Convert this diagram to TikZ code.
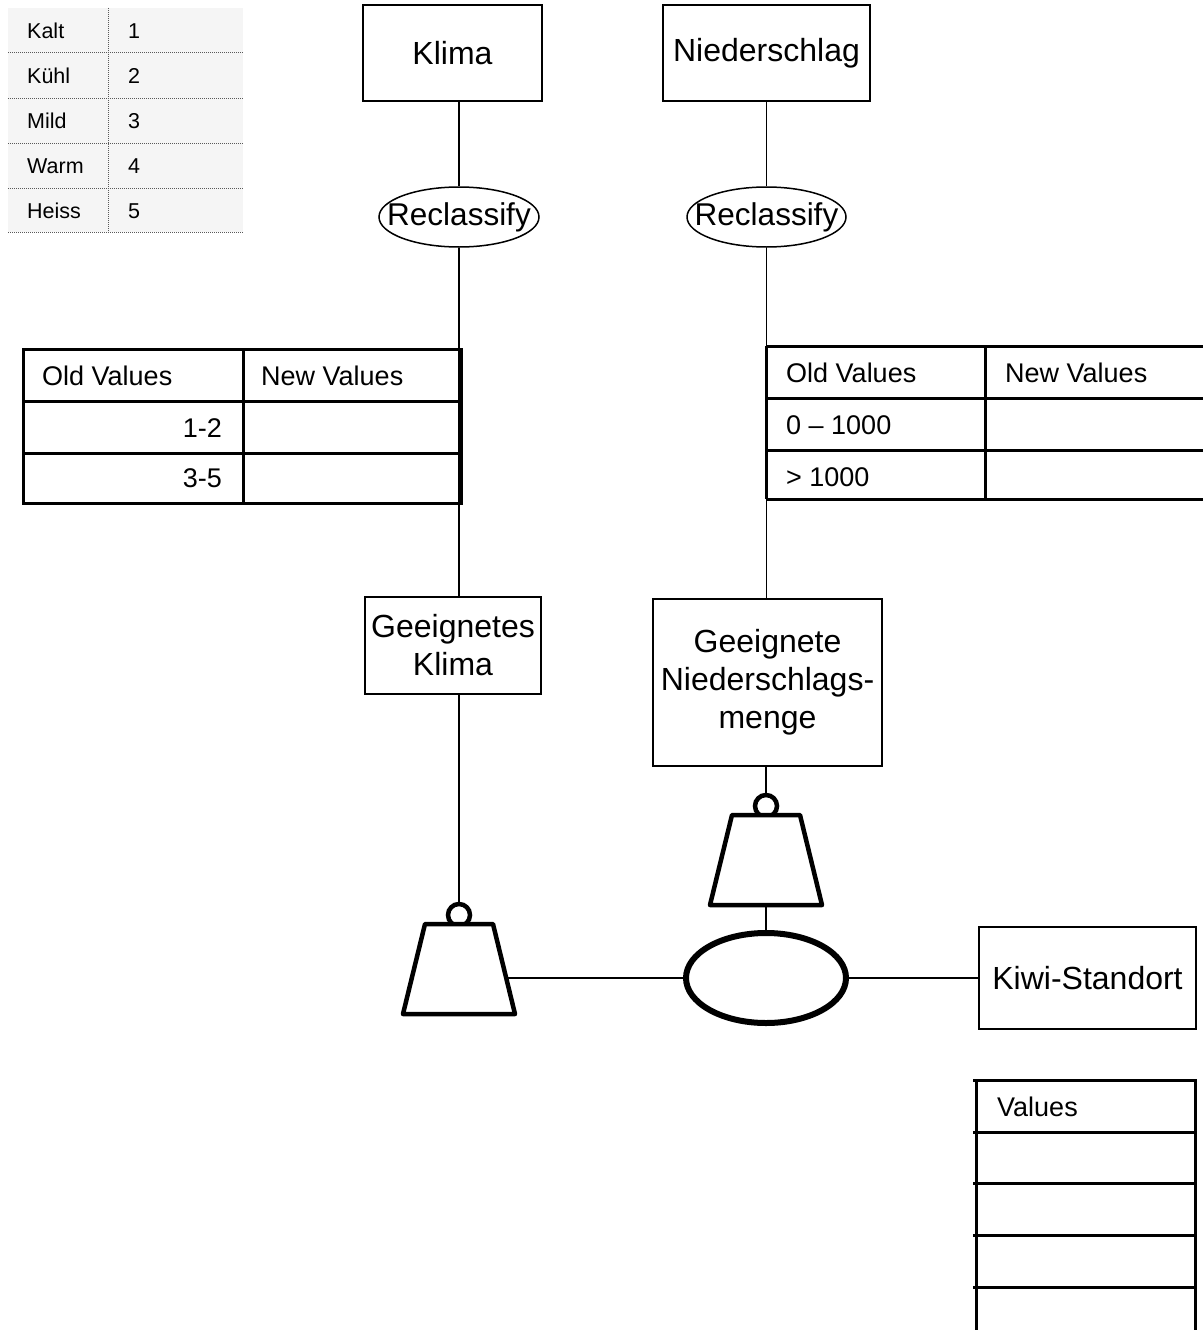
\documentclass[tikz,border=0pt]{standalone}
\usepackage{fontspec}
\setmainfont{Liberation Sans}
\usetikzlibrary{shapes.geometric}

\tikzset{
  databox/.style={draw, line width=1.5pt, align=center, inner sep=0pt,
    font=\fontsize{32}{38}\selectfont},
  toolring/.style={draw, ellipse, line width=1.5pt, inner sep=0pt,
    minimum width=160, minimum height=60},
  conn/.style={line width=1.5pt},
  tabline/.style={line width=3pt},
  tabtext/.style={font=\fontsize{27}{32}\selectfont, inner sep=0pt},
  legtext/.style={font=\fontsize{21.5}{26}\selectfont, inner sep=0pt, anchor=west},
  weight/.pic={
    \draw[line width=4.5pt] (0,-9) circle (11);
    \draw[line width=4.5pt, line join=round, fill=white]
      (-34,0) -- (34,0) -- (56,90) -- (-56,90) -- cycle;
    \coordinate (-hook) at (0,-20);
    \coordinate (-east) at (47,54);
    \coordinate (-base) at (0,90);
  }
}

\begin{document}
\begin{tikzpicture}[x=1pt, y=-1pt]
  \useasboundingbox (0,0) rectangle (1202,1330);

  % legend of the climate classes
  \fill[gray!8] (8,8) rectangle (243,232);
  \foreach \y in {53,98,143,188,232}
    \draw[gray!70!black, densely dotted, line width=1pt] (8,\y) -- (243,\y);
  \draw[gray!70!black, densely dotted, line width=1pt] (108,8) -- (108,232);
  \foreach \name/\val [count=\i] in {Kalt/1, Kühl/2, Mild/3, Warm/4, Heiss/5} {
    \node[legtext] (leg\i) at (27,{31+45*(\i-1)}) {\name};
    \node[legtext] (legv\i) at (128,{31+45*(\i-1)}) {\val};
  }

  % input layers
  \node[databox, minimum width=179, minimum height=96] (klima) at (452.5,53) {Klima};
  \node[databox, minimum width=207, minimum height=96] (nieder) at (766.5,53) {Niederschlag};

  \node[toolring, label={[font=\fontsize{31.5}{36}\selectfont]center:Reclassify}] (reclA) at (459,217) {};
  \node[toolring, minimum width=159, label={[font=\fontsize{31.5}{36}\selectfont]center:Reclassify}] (reclB) at (766.5,217) {};

  % reclass tables
  \draw[tabline] (23,349) rectangle (461,503);
  \draw[tabline] (23,401) -- (461,401);
  \draw[tabline] (23,453) -- (461,453);
  \draw[tabline] (243,349) -- (243,503);
  \node[tabtext, anchor=west] (oldA) at (42,376) {Old Values};
  \node[tabtext, anchor=west] (newA) at (261,376) {New Values};
  \node[tabtext, anchor=east] (rowA1) at (222,428) {1-2};
  \node[tabtext, anchor=east] (rowA2) at (222,478) {3-5};

  \foreach \y in {346,398,450,499}
    \draw[tabline] (766,\y) -- (1205,\y);
  \draw[tabline] (766,346) -- (766,499);
  \draw[tabline] (985,346) -- (985,499);
  \node[tabtext, anchor=west] (oldB) at (786,373) {Old Values};
  \node[tabtext, anchor=west] (newB) at (1005,373) {New Values};
  \node[tabtext, anchor=west] (rowB1) at (786,425) {0 – 1000};
  \node[tabtext, anchor=west] (rowB2) at (786,477) {> 1000};

  % suitable layers
  \node[databox, minimum width=176, minimum height=97] (geeK) at (453,645.5) {Geeignetes\\Klima};
  \node[databox, minimum width=229, minimum height=167] (geeN) at (767.5,682.5) {Geeignete\\Niederschlags-\\menge};

  % weights and overlay
  \pic (wA) at (459,924) {weight};
  \pic (wB) at (766,815) {weight};
  \node[draw, ellipse, line width=6pt, minimum width=160, minimum height=90] (union) at (766,978) {};
  \node[databox, minimum width=217, minimum height=102] (kiwi) at (1087.5,978) {Kiwi-Standort};

  % connectors
  \draw[conn] (reclA.north) -- (reclA.north |- klima.south);
  \draw[conn] (reclB.north) -- (reclB.north |- nieder.south);
  \draw[conn] (reclA.south) -- (reclA.south |- geeK.north);
  \draw[conn] (reclB.south) -- (reclB.south |- geeN.north);
  \draw[conn] (wA-hook) -- (wA-hook |- geeK.south);
  \draw[conn] (wB-hook) -- (wB-hook |- geeN.south);
  \draw[conn] (wA-east) -- (union.west);
  \draw[conn] (wB-base) -- (union.north);
  \draw[conn] (union.east) -- (kiwi.west);

  % output table
  \draw[tabline] (976,1080) -- (976,1335);
  \draw[tabline] (1195,1080) -- (1195,1335);
  \foreach \y in {1080,1132,1183,1235,1287}
    \draw[tabline] (973,\y) -- (1196.5,\y);
  \node[tabtext, anchor=west] (vals) at (997,1107) {Values};
\end{tikzpicture}
\end{document}
